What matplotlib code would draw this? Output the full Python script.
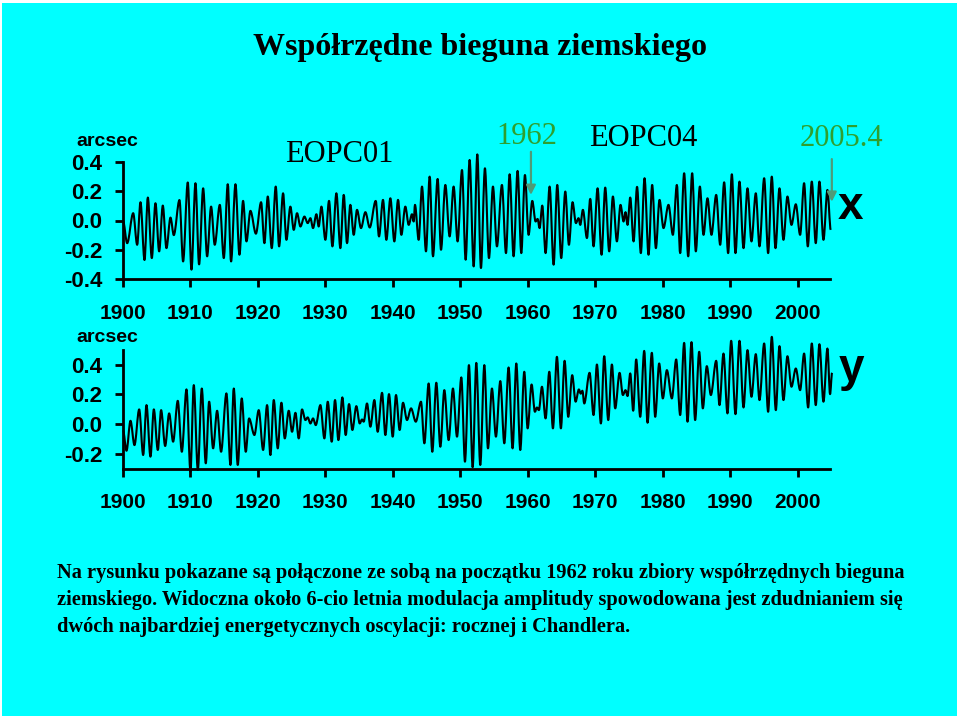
import matplotlib
matplotlib.use('Agg')
import matplotlib.pyplot as plt
from matplotlib.patches import Rectangle, PathPatch
from matplotlib.path import Path

# ── DATA (extrema, arcsec)
x_years = [1900.0, 1900.62, 1901.51, 1902.10, 1902.59, 1903.19, 1903.68, 1904.27, 1904.81, 1905.36,
           1905.90, 1906.44, 1907.04, 1907.53, 1908.37, 1908.91, 1909.60, 1910.15, 1910.74, 1911.28,
           1911.88, 1912.47, 1913.06, 1913.60, 1914.35, 1914.94, 1915.53, 1916.02, 1916.67, 1917.26,
           1917.80, 1918.30, 1918.89, 1919.70, 1920.47, 1920.96, 1921.46, 1922.05, 1922.64, 1923.14,
           1923.73, 1924.22, 1924.81, 1925.31, 1925.80, 1926.30, 1926.89, 1927.38, 1927.78, 1928.17,
           1928.67, 1929.01, 1929.41, 1930.00, 1930.54, 1931.04, 1931.63, 1932.22, 1932.72, 1933.21,
           1933.70, 1934.20, 1934.69, 1935.28, 1935.93, 1936.57, 1937.46, 1937.95, 1938.54, 1939.04,
           1939.63, 1940.22, 1940.77, 1941.26, 1941.85, 1942.35, 1942.84, 1943.09, 1943.28, 1943.83,
           1944.32, 1944.91, 1945.46, 1945.95, 1946.64, 1947.14, 1947.78, 1948.42, 1949.01, 1949.60,
           1950.25, 1950.79, 1951.38, 1951.98, 1952.52, 1953.06, 1953.65, 1954.25, 1954.84, 1955.43,
           1956.17, 1956.77, 1957.31, 1957.90, 1958.49, 1959.04, 1959.58, 1960.12, 1960.67, 1961.16,
           1961.46, 1961.75, 1962.15, 1962.64, 1963.24, 1963.83, 1964.37, 1964.96, 1965.56, 1966.10,
           1966.64, 1967.14, 1967.53, 1967.78, 1968.17, 1968.77, 1969.26, 1969.75, 1970.35, 1970.94,
           1971.48, 1972.07, 1972.62, 1973.21, 1973.75, 1974.20, 1974.49, 1974.79, 1975.19, 1975.68,
           1976.20, 1976.76, 1977.31, 1977.90, 1978.44, 1978.99, 1979.53, 1980.12, 1980.86, 1981.51,
           1982.10, 1982.59, 1983.18, 1983.78, 1984.37, 1984.91, 1985.51, 1986.05, 1986.64, 1987.23,
           1987.93, 1988.52, 1989.11, 1989.70, 1990.25, 1990.79, 1991.38, 1991.98, 1992.57, 1993.16,
           1993.80, 1994.35, 1995.04, 1995.63, 1996.17, 1996.72, 1997.31, 1997.90, 1998.49, 1999.09,
           1999.73, 2000.37, 2000.96, 2001.51, 2002.10, 2002.69, 2003.23, 2003.83, 2004.42, 2004.91]
x_vals = [0.0, -0.155, 0.05, -0.166, 0.125, -0.27, 0.157, -0.257, 0.118, -0.211,
          0.102, -0.189, 0.02, -0.10, 0.14, -0.28, 0.26, -0.336, 0.255, -0.30,
          0.22, -0.245, 0.095, -0.166, 0.107, -0.257, 0.248, -0.28, 0.248, -0.234,
          0.134, -0.143, 0.066, -0.09, 0.125, -0.155, 0.164, -0.189, 0.232, -0.177,
          0.186, -0.132, 0.095, -0.064, 0.05, -0.041, 0.027, -0.018, 0.016, -0.052,
          0.043, -0.041, 0.095, -0.132, 0.134, -0.177, 0.186, -0.189, 0.175, -0.155,
          0.107, -0.098, 0.073, -0.052, 0.057, -0.048, 0.134, -0.109, 0.141, -0.132,
          0.152, -0.143, 0.141, -0.098, 0.095, -0.03, 0.043, -0.007, 0.107, -0.132,
          0.232, -0.211, 0.30, -0.245, 0.284, -0.20, 0.243, -0.109, 0.232, -0.143,
          0.345, -0.268, 0.414, -0.314, 0.452, -0.325, 0.357, -0.257, 0.232, -0.177,
          0.243, -0.223, 0.316, -0.245, 0.339, -0.223, 0.311, -0.098, 0.134, -0.007,
          0.011, -0.052, 0.102, -0.223, 0.232, -0.302, 0.243, -0.257, 0.198, -0.166,
          0.125, -0.018, 0.016, -0.03, 0.073, -0.12, 0.148, -0.177, 0.22, -0.234,
          0.225, -0.211, 0.164, -0.143, 0.107, -0.007, 0.057, -0.03, 0.157, -0.143,
          0.23, -0.223, 0.289, -0.234, 0.243, -0.189, 0.141, -0.052, 0.107, -0.098,
          0.243, -0.223, 0.323, -0.245, 0.323, -0.211, 0.232, -0.098, 0.152, -0.098,
          0.175, -0.166, 0.261, -0.223, 0.316, -0.223, 0.266, -0.189, 0.22, -0.143,
          0.186, -0.177, 0.289, -0.223, 0.30, -0.189, 0.22, -0.132, 0.164, -0.03,
          0.111, -0.098, 0.255, -0.177, 0.266, -0.155, 0.266, -0.132, 0.209, -0.064]

y_years = [1900.0, 1900.52, 1901.11, 1901.70, 1902.40, 1902.99, 1903.48, 1904.07, 1904.57, 1905.16,
           1905.65, 1906.25, 1906.84, 1907.43, 1908.12, 1908.72, 1909.41, 1910.00, 1910.49, 1911.09,
           1911.68, 1912.27, 1912.77, 1913.36, 1913.95, 1914.54, 1915.33, 1915.93, 1916.42, 1917.01,
           1917.60, 1918.20, 1918.69, 1919.48, 1920.12, 1920.77, 1921.36, 1921.85, 1922.35, 1922.94,
           1923.48, 1923.98, 1924.57, 1925.06, 1925.56, 1926.05, 1926.54, 1927.04, 1927.38, 1927.78,
           1928.17, 1928.57, 1929.26, 1929.85, 1930.35, 1930.94, 1931.43, 1931.93, 1932.52, 1933.01,
           1933.51, 1934.00, 1934.59, 1935.09, 1935.43, 1935.68, 1936.17, 1936.67, 1937.26, 1937.75,
           1938.40, 1938.89, 1939.43, 1939.98, 1940.47, 1941.01, 1941.51, 1942.10, 1942.70, 1943.40,
           1944.17, 1944.67, 1945.31, 1945.85, 1946.44, 1947.04, 1947.63, 1948.27, 1948.91, 1949.51,
           1950.15, 1950.69, 1951.28, 1951.83, 1952.37, 1952.96, 1953.56, 1954.10, 1954.69, 1955.28,
           1955.93, 1956.52, 1957.16, 1957.75, 1958.30, 1958.89, 1959.48, 1959.98, 1960.57, 1961.06,
           1961.36, 1961.65, 1962.10, 1962.64, 1963.19, 1963.73, 1964.32, 1964.91, 1965.46, 1966.00,
           1966.59, 1967.09, 1967.58, 1967.85, 1968.10, 1968.37, 1969.16, 1969.75, 1970.25, 1970.84,
           1971.33, 1971.93, 1972.47, 1972.96, 1973.61, 1974.10, 1974.49, 1974.79, 1975.19, 1975.63,
           1976.07, 1976.67, 1977.26, 1977.75, 1978.39, 1978.89, 1979.48, 1980.02, 1980.62, 1981.36,
           1982.00, 1982.59, 1983.18, 1983.68, 1984.27, 1984.81, 1985.41, 1985.95, 1986.54, 1987.14,
           1987.93, 1988.42, 1989.01, 1989.60, 1990.15, 1990.79, 1991.38, 1991.98, 1992.57, 1993.16,
           1993.80, 1994.35, 1995.04, 1995.63, 1996.17, 1996.77, 1997.31, 1997.90, 1998.49, 1999.09,
           1999.73, 2000.37, 2000.96, 2001.56, 2002.10, 2002.69, 2003.23, 2003.83, 2004.42, 2004.81,
           2005.11]
y_vals = [-0.04, -0.18, 0.022, -0.142, 0.099, -0.209, 0.128, -0.22, 0.099, -0.175,
          0.094, -0.148, 0.072, -0.119, 0.157, -0.187, 0.234, -0.321, 0.263, -0.31,
          0.24, -0.265, 0.151, -0.164, 0.09, -0.187, 0.207, -0.276, 0.24, -0.276,
          0.173, -0.187, 0.038, -0.074, 0.094, -0.175, 0.128, -0.209, 0.162, -0.164,
          0.144, -0.097, 0.09, -0.052, 0.076, -0.097, 0.099, 0.027, 0.045, 0.004,
          0.038, -0.007, 0.128, -0.097, 0.151, -0.119, 0.162, -0.108, 0.18, -0.074,
          0.135, -0.04, 0.121, 0.004, 0.031, 0.016, 0.139, -0.018, 0.162, -0.052,
          0.211, -0.074, 0.202, -0.085, 0.196, -0.04, 0.144, 0.027, 0.106, 0.016,
          0.151, -0.13, 0.274, -0.187, 0.279, -0.153, 0.229, -0.108, 0.24, -0.085,
          0.315, -0.254, 0.398, -0.292, 0.413, -0.276, 0.398, -0.164, 0.24, -0.085,
          0.29, -0.13, 0.382, -0.164, 0.409, -0.175, 0.353, -0.029, 0.267, 0.083,
          0.112, 0.094, 0.252, 0.038, 0.353, -0.029, 0.454, -0.029, 0.427, 0.049,
          0.33, 0.151, 0.234, 0.205, 0.225, 0.139, 0.346, 0.061, 0.402, 0.004,
          0.458, 0.027, 0.402, 0.106, 0.346, 0.196, 0.229, 0.189, 0.342, 0.09,
          0.436, 0.049, 0.494, 0.009, 0.481, 0.049, 0.409, 0.173, 0.364, 0.173,
          0.436, 0.061, 0.548, 0.016, 0.553, 0.027, 0.488, 0.106, 0.391, 0.196,
          0.427, 0.128, 0.476, 0.072, 0.562, 0.067, 0.562, 0.112, 0.499, 0.184,
          0.472, 0.162, 0.544, 0.083, 0.589, 0.094, 0.526, 0.162, 0.458, 0.252,
          0.375, 0.229, 0.476, 0.112, 0.544, 0.128, 0.539, 0.151, 0.51, 0.202,
          0.346]

year_ticks = list(range(1900, 2001, 10))
x_ticks = [-0.4, -0.2, 0.0, 0.2, 0.4]
y_ticks = [-0.2, 0.0, 0.2, 0.4]

title = "Współrzędne bieguna ziemskiego"
caption = [
    "Na rysunku pokazane są połączone ze sobą na początku 1962 roku zbiory współrzędnych bieguna",
    "ziemskiego. Widoczna około 6-cio letnia modulacja amplitudy spowodowana jest zdudnianiem się",
    "dwóch najbardziej energetycznych oscylacji: rocznej i Chandlera.",
]

CYAN = '#00FFFF'
GREEN = '#2f9f2f'
ARROW = '#4f9b78'
SANS = 'Liberation Sans'
SERIF = 'Liberation Serif'

W, H = 960, 720
fig = plt.figure(figsize=(9.6, 7.2), dpi=100)
fig.patch.set_facecolor('white')
fig.patches.append(Rectangle((2 / W, 4 / H), 955 / W, 713 / H, transform=fig.transFigure,
                             facecolor=CYAN, edgecolor='none', zorder=-10))


def fx(px):
    return px / W


def fy(py):
    return 1 - py / H


def style_axis(ax, ylim, yticks):
    ax.patch.set_alpha(0)
    ax.set_xlim(1900, 2004.8)
    ax.set_ylim(*ylim)
    for s in ['top', 'right']:
        ax.spines[s].set_visible(False)
    for s in ['left', 'bottom']:
        ax.spines[s].set_linewidth(2)
    ax.set_xticks(year_ticks)
    ax.set_xticklabels([str(t) for t in year_ticks], fontfamily=SANS, fontweight='bold', fontsize=15)
    ax.set_yticks(yticks)
    ax.set_yticklabels([f"{t:.1f}" for t in yticks], fontfamily=SANS, fontweight='bold', fontsize=16)
    ax.tick_params(axis='x', direction='out', length=6, width=2, pad=12)
    ax.tick_params(axis='y', direction='out', length=6, width=2, pad=9)


def wave(ax, years, vals):
    # smooth swing between successive extrema (flat tangent at each peak / trough)
    verts = [(years[0], vals[0])]
    codes = [Path.MOVETO]
    for i in range(1, len(years)):
        t0, t1 = years[i - 1], years[i]
        d = (t1 - t0) / 3
        verts += [(t0 + d, vals[i - 1]), (t1 - d, vals[i]), (t1, vals[i])]
        codes += [Path.CURVE4] * 3
    ax.add_patch(PathPatch(Path(verts, codes), facecolor='none', edgecolor='black',
                           lw=1.5, clip_on=False, joinstyle='round'))


# ── TOP PANEL (x)
ax1 = fig.add_axes([fx(123), fy(279), fx(707), 117 / H])
style_axis(ax1, (-0.4, 0.4), x_ticks)
wave(ax1, x_years, x_vals)

# ── BOTTOM PANEL (y)
ax2 = fig.add_axes([fx(123), fy(468.5), fx(707), 118.5 / H])
style_axis(ax2, (-0.3, 0.5), y_ticks)
wave(ax2, y_years, y_vals)

# ── TEXTS
fig.text(0.5, fy(47), title, ha='center', va='center', fontfamily=SERIF,
         fontweight='bold', fontsize=23)
fig.text(fx(107), fy(142), 'arcsec', ha='center', va='center', fontfamily=SANS,
         fontweight='bold', fontsize=14)
fig.text(fx(107), fy(338), 'arcsec', ha='center', va='center', fontfamily=SANS,
         fontweight='bold', fontsize=14)
fig.text(fx(339), fy(155), 'EOPC01', ha='center', va='center', fontfamily=SERIF, fontsize=22)
fig.text(fx(643), fy(139), 'EOPC04', ha='center', va='center', fontfamily=SERIF, fontsize=22)
fig.text(fx(527), fy(136), '1962', ha='center', va='center', fontfamily=SERIF,
         fontsize=22, color=GREEN)
fig.text(fx(841), fy(139), '2005.4', ha='center', va='center', fontfamily=SERIF,
         fontsize=22, color=GREEN)
fig.text(fx(850), fy(207), 'x', ha='center', va='center', fontfamily=SANS,
         fontweight='bold', fontsize=33)
fig.text(fx(851), fy(369), 'y', ha='center', va='center', fontfamily=SANS,
         fontweight='bold', fontsize=33)

# arrows marking the 1962 join and the end of the series
for xa, y_tip, y_tail in [(1960.47, 0.175, 0.47), (2005.07, 0.128, 0.42)]:
    ax1.annotate('', xy=(xa, y_tip), xytext=(xa, y_tail), annotation_clip=False,
                 arrowprops=dict(arrowstyle='-|>', color=ARROW, lw=1.6, mutation_scale=14,
                                 shrinkA=0, shrinkB=0))

for i, line in enumerate(caption):
    fig.text(fx(57), fy(573 + 27 * i), line, ha='left', va='center', fontfamily=SERIF,
             fontweight='bold', fontsize=14.7)

fig.savefig('out.png', dpi=100, facecolor=fig.get_facecolor())
